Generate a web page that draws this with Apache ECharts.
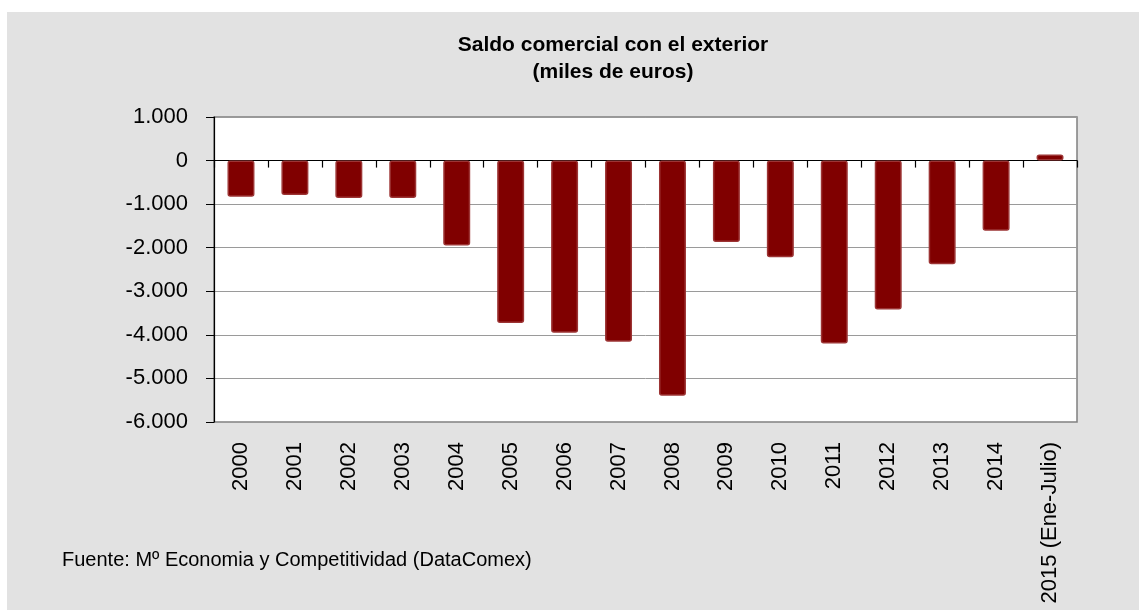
<!DOCTYPE html>
<html>
<head>
<meta charset="utf-8">
<script src="https://cdn.jsdelivr.net/npm/echarts@6/dist/echarts.min.js"></script>
<style>
html,body{margin:0;padding:0;background:#fff;}
#c{width:1139px;height:610px;}
</style>
</head>
<body>
<div id="c"></div>
<script>
var categories = ['2000','2001','2002','2003','2004','2005','2006','2007','2008','2009','2010','2011','2012','2013','2014','2015 (Ene-Julio)'];
var saldo = [-830, -790, -860, -860, -1950, -3730, -3950, -4160, -5400, -1870, -2220, -4200, -3420, -2380, -1610, 140];
var yTicks = {min: -6000, max: 1000, step: 1000};
var titleLines = ['Saldo comercial con el exterior', '(miles de euros)'];
var sourceNote = 'Fuente: M\u00ba Economia y Competitividad (DataComex)';

function fmt(v) {
  var a = Math.abs(v);
  var s;
  if (a >= 1000) {
    var r = String(a % 1000);
    while (r.length < 3) r = '0' + r;
    s = Math.floor(a / 1000) + '.' + r;
  } else {
    s = String(a);
  }
  return (v < 0 ? '-' : '') + s;
}

var FONT = '"Liberation Sans", Arial, sans-serif';
var chart = echarts.init(document.getElementById('c'), null, {renderer: 'canvas'});
chart.setOption({
  backgroundColor: '#ffffff',
  animation: false,
  graphic: [
    {type: 'rect', z: -10, shape: {x: 7, y: 12, width: 1132, height: 598}, style: {fill: '#e2e2e2'}},
    {type: 'text', z: 10, x: 613, y: 32,
     style: {text: titleLines.join('\n'), font: 'bold 21px ' + FONT, fill: '#000', textAlign: 'center', textVerticalAlign: 'top', lineHeight: 27}},
    {type: 'text', z: 10, x: 62, y: 560,
     style: {text: sourceNote, font: '20px ' + FONT, fill: '#000', textAlign: 'left', textVerticalAlign: 'middle'}}
  ],
  grid: {left: 214, right: 62, top: 117, bottom: 188, show: true, backgroundColor: '#ffffff', borderColor: '#808080', borderWidth: 1.5},
  xAxis: [
    {type: 'category', data: categories, position: 'bottom',
     axisLine: {show: false, onZero: false}, axisTick: {show: false},
     axisLabel: {rotate: 90, margin: 20, interval: 0, fontSize: 22, fontFamily: FONT, color: '#000'}},
    {type: 'category', data: categories, position: 'bottom',
     axisLine: {show: true, onZero: true, lineStyle: {color: '#000', width: 1.2}},
     axisTick: {show: true, length: 7, inside: false, interval: 0, lineStyle: {color: '#000', width: 1.2}},
     axisLabel: {show: false}}
  ],
  yAxis: {
    type: 'value', min: yTicks.min, max: yTicks.max, interval: yTicks.step,
    axisLine: {show: true, lineStyle: {color: '#000', width: 1.2}},
    axisTick: {show: true, length: 8, lineStyle: {color: '#000'}},
    splitLine: {show: true, lineStyle: {color: '#9a9a9a', width: 1}},
    axisLabel: {formatter: fmt, margin: 26, fontSize: 22, fontFamily: FONT, color: '#000'}
  },
  series: [{
    type: 'bar', xAxisIndex: 0, data: saldo, barWidth: '50%',
    itemStyle: {color: '#800000', borderColor: '#9c3434', borderWidth: 1.5, borderRadius: 2}
  }]
});
</script>
</body>
</html>
